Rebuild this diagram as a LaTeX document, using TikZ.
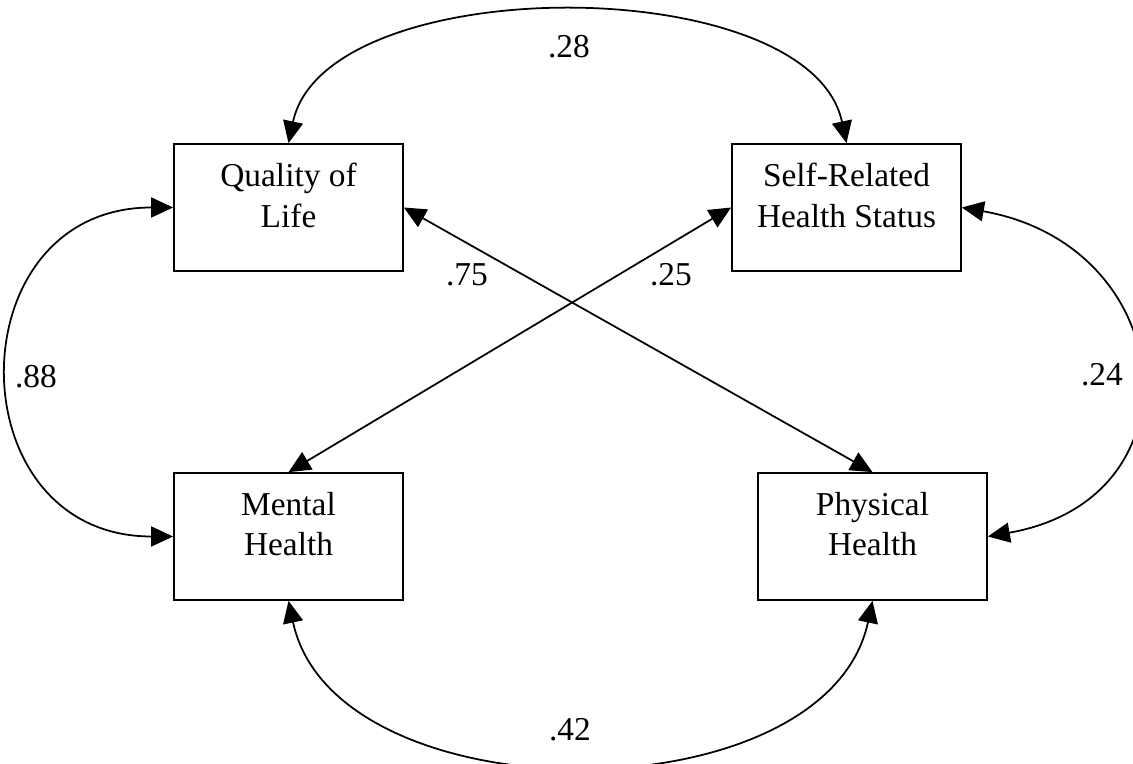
\documentclass[tikz,border=0pt]{standalone}
\usepackage{fontspec}
\setmainfont{Liberation Serif}
\usetikzlibrary{arrows.meta,positioning}

\begin{document}
\begin{tikzpicture}[
  >={Triangle[length=4.4mm,width=4mm]},
  varbox/.style={shape=rectangle, draw=black, line width=1pt, minimum width=4.58cm, minimum height=2.54cm, inner sep=0pt},
  vartext/.style={align=center, inner sep=0pt, font=\fontsize{19}{22.8}\selectfont},
  coef/.style={inner sep=0pt, font=\fontsize{19}{22.8}\selectfont},
  link/.style={<->, line width=1pt, draw=black}
]
\useasboundingbox (0,0) rectangle (22.66,15.28);

% the four measured variables
\node[varbox] (qol) at (5.77,11.13) {};
\node[varbox] (srh) at (16.93,11.13) {};
\node[varbox] (mh) at (5.77,4.55) {};
\node[varbox] (ph) at (17.45,4.55) {};
\node[vartext, below=0.4cm of qol.north] (qoltext) {Quality of\\Life};
\node[vartext, below=0.4cm of srh.north] (srhtext) {Self-Related\\Health Status};
\node[vartext, below=0.4cm of mh.north] (mhtext) {Mental\\Health};
\node[vartext, below=0.4cm of ph.north] (phtext) {Physical\\Health};

% correlations
\draw[link] (qol.north) .. controls +(78:3.55) and +(102:3.55) .. (srh.north);
\draw[link] (mh.south) .. controls +(-78:4.45) and +(-102:4.45) .. (ph.south);
\draw[link] (qol.west) .. controls +(-4.37,0) and +(-4.37,0) .. (mh.west);
\draw[link] (srh.east) .. controls +(-10:4.4) and +(10:4.4) .. (ph.east);
\draw[link] (qol.east) -- (ph.north);
\draw[link] (srh.west) -- (mh.north);

\node[coef] (r28) at (11.38,14.34) {.28};
\node[coef] (r75) at (9.34,9.78) {.75};
\node[coef] (r25) at (13.42,9.78) {.25};
\node[coef] (r88) at (0.72,7.75) {.88};
\node[coef] (r24) at (22.04,7.78) {.24};
\node[coef] (r42) at (11.40,0.68) {.42};
\end{tikzpicture}
\end{document}
